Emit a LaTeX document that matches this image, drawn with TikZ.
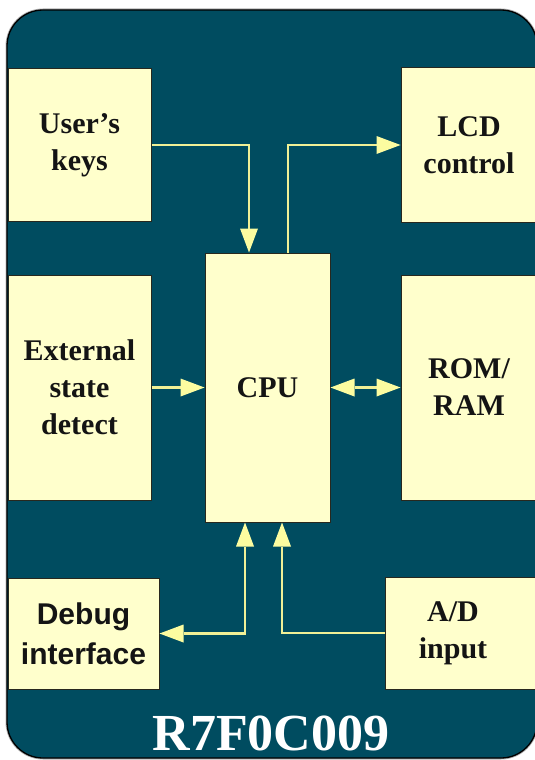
\documentclass[tikz,border=0pt]{standalone}
\usepackage{fontspec}
\setmainfont{Liberation Serif}
\newfontfamily\arialfont{Liberation Sans}
\usetikzlibrary{calc,arrows.meta}
\definecolor{bgteal}{RGB}{0,76,96}
\definecolor{boxfill}{RGB}{255,255,204}
\definecolor{boxline}{RGB}{40,40,30}
\definecolor{arrowyel}{RGB}{240,240,150}
\definecolor{tipyel}{RGB}{252,252,160}
\definecolor{txt}{RGB}{20,20,20}
\tikzset{
  blk/.style={draw=boxline, line width=1pt, fill=boxfill, inner sep=0pt, align=center,
    text=txt, font=\fontsize{30}{37}\selectfont\bfseries},
  arr/.style={draw=arrowyel, line width=2.2pt,
    -{Triangle[length=24pt,width=18pt,fill=tipyel,line width=0pt]}},
  darr/.style={draw=arrowyel, line width=2.2pt,
    {Triangle[length=24pt,width=18pt,fill=tipyel,line width=0pt]}-{Triangle[length=24pt,width=18pt,fill=tipyel,line width=0pt]}},
}
\begin{document}
\begin{tikzpicture}[x=1pt,y=-1pt]
\useasboundingbox (0,0) rectangle (535,760);
\begin{scope}
\clip (0,0) rectangle (535,760);
% background
\draw[draw=gray!60, line width=3pt, rounded corners=36pt] (7,10) rectangle (537,758);
\draw[draw=black, line width=1.3pt, fill=bgteal, rounded corners=36pt] (7,10) rectangle (537,758);
% boxes
\node[blk, minimum width=143pt, minimum height=152pt] (keys) at (79.5,145) {User’s\\keys};
\node[blk, minimum width=136pt, minimum height=154pt] (lcd) at (469,145) {LCD\\control};
\node[blk, minimum width=143pt, minimum height=225pt] (ext) at (79.5,387.5) {External\\state\\detect};
\node[blk, minimum width=125pt, minimum height=269pt] (cpu) at (267.5,387.5) {CPU};
\node[blk, minimum width=136pt, minimum height=225pt] (rom) at (469,387.5) {ROM/\\RAM};
\node[blk, minimum width=151pt, minimum height=111pt, font=\fontsize{30}{40}\selectfont\arialfont\bfseries] (dbg) at (83.5,633.5) {Debug\\interface};
\node[blk, minimum width=152pt, minimum height=112pt] (ad) at (461,633) {};
\node[align=center, text=txt, font=\fontsize{30}{37}\selectfont\bfseries, inner sep=0pt] (adtext) at (453,633) {A/D\\input};
\end{scope}
% connectors
\draw[arr] (keys.east) -| ($(cpu.north)+(-18.5,0)$);
\draw[arr] ($(cpu.north)+(20.5,0)$) |- (lcd.west);
\draw[arr] (ext.east) -- (cpu.west);
\draw[darr] (cpu.east) -- (rom.west);
\draw[darr] (dbg.east) -| ($(cpu.south)+(-22.5,0)$);
\draw[arr] (ad.west) -| ($(cpu.south)+(14.5,0)$);
% title
\node[anchor=base, text=white, font=\fontsize{52}{60}\selectfont\bfseries, inner sep=0pt] (title) at (271,750) {R7F0C009};
\end{tikzpicture}
\end{document}
